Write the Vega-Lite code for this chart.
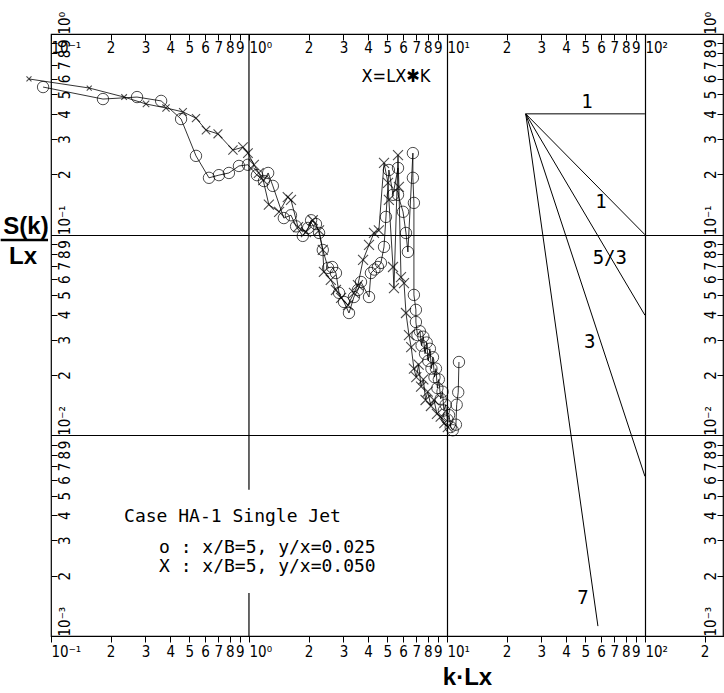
{
  "$schema": "https://vega.github.io/schema/vega-lite/v6.json",
  "width": 672,
  "height": 602,
  "autosize": {"type": "none"},
  "padding": {"left": 51, "top": 34, "right": 1, "bottom": 57},
  "background": "white",
  "config": {
    "view": {"stroke": "black", "strokeWidth": 1.2},
    "axis": {"labelColor": "black", "tickColor": "black", "domainColor": "black", "labelOverlap": false, "labelFlush": false, "labelBound": false}
  },
  "datasets": {
    "spectra": [
      {"series": "o", "seq": 1, "k": 0.0912, "S": 0.544},
      {"series": "o", "seq": 2, "k": 0.183, "S": 0.474},
      {"series": "o", "seq": 3, "k": 0.272, "S": 0.485},
      {"series": "o", "seq": 4, "k": 0.36, "S": 0.464},
      {"series": "o", "seq": 5, "k": 0.454, "S": 0.377},
      {"series": "o", "seq": 6, "k": 0.54, "S": 0.247},
      {"series": "o", "seq": 7, "k": 0.628, "S": 0.192},
      {"series": "o", "seq": 8, "k": 0.705, "S": 0.198},
      {"series": "o", "seq": 9, "k": 0.792, "S": 0.203},
      {"series": "o", "seq": 10, "k": 0.89, "S": 0.22},
      {"series": "o", "seq": 11, "k": 0.988, "S": 0.223},
      {"series": "o", "seq": 12, "k": 1.097, "S": 0.198},
      {"series": "o", "seq": 13, "k": 1.19, "S": 0.185},
      {"series": "o", "seq": 14, "k": 1.25, "S": 0.203},
      {"series": "o", "seq": 15, "k": 1.32, "S": 0.175},
      {"series": "o", "seq": 16, "k": 1.5, "S": 0.121},
      {"series": "o", "seq": 17, "k": 1.63, "S": 0.125},
      {"series": "o", "seq": 18, "k": 1.73, "S": 0.11},
      {"series": "o", "seq": 19, "k": 1.87, "S": 0.0986},
      {"series": "o", "seq": 20, "k": 1.99, "S": 0.108},
      {"series": "o", "seq": 21, "k": 2.06, "S": 0.118},
      {"series": "o", "seq": 22, "k": 2.18, "S": 0.113},
      {"series": "o", "seq": 23, "k": 2.26, "S": 0.102},
      {"series": "o", "seq": 24, "k": 2.36, "S": 0.0839},
      {"series": "o", "seq": 25, "k": 2.51, "S": 0.0683},
      {"series": "o", "seq": 26, "k": 2.63, "S": 0.069},
      {"series": "o", "seq": 27, "k": 2.75, "S": 0.0644},
      {"series": "o", "seq": 28, "k": 2.85, "S": 0.0513},
      {"series": "o", "seq": 29, "k": 3.02, "S": 0.0462},
      {"series": "o", "seq": 30, "k": 3.2, "S": 0.0407},
      {"series": "o", "seq": 31, "k": 3.39, "S": 0.0489},
      {"series": "o", "seq": 32, "k": 3.55, "S": 0.053},
      {"series": "o", "seq": 33, "k": 3.68, "S": 0.0581},
      {"series": "o", "seq": 34, "k": 4.04, "S": 0.0489},
      {"series": "o", "seq": 35, "k": 4.13, "S": 0.0644},
      {"series": "o", "seq": 36, "k": 4.3, "S": 0.067},
      {"series": "o", "seq": 37, "k": 4.48, "S": 0.069},
      {"series": "o", "seq": 38, "k": 4.64, "S": 0.0723},
      {"series": "o", "seq": 39, "k": 4.81, "S": 0.0869},
      {"series": "o", "seq": 40, "k": 4.92, "S": 0.1226},
      {"series": "o", "seq": 41, "k": 5.09, "S": 0.21},
      {"series": "o", "seq": 42, "k": 5.34, "S": 0.158},
      {"series": "o", "seq": 43, "k": 5.66, "S": 0.215},
      {"series": "o", "seq": 44, "k": 5.66, "S": 0.158},
      {"series": "o", "seq": 45, "k": 6.0, "S": 0.13},
      {"series": "o", "seq": 46, "k": 6.21, "S": 0.102},
      {"series": "o", "seq": 47, "k": 6.35, "S": 0.082},
      {"series": "o", "seq": 48, "k": 6.73, "S": 0.255},
      {"series": "o", "seq": 49, "k": 6.73, "S": 0.192},
      {"series": "o", "seq": 50, "k": 6.81, "S": 0.144},
      {"series": "o", "seq": 51, "k": 6.81, "S": 0.0501},
      {"series": "o", "seq": 52, "k": 6.97, "S": 0.0422},
      {"series": "o", "seq": 53, "k": 6.97, "S": 0.0367},
      {"series": "o", "seq": 54, "k": 7.1, "S": 0.0316},
      {"series": "o", "seq": 55, "k": 7.3, "S": 0.033},
      {"series": "o", "seq": 56, "k": 7.45, "S": 0.028},
      {"series": "o", "seq": 57, "k": 7.6, "S": 0.031},
      {"series": "o", "seq": 58, "k": 7.75, "S": 0.0255},
      {"series": "o", "seq": 59, "k": 7.9, "S": 0.029},
      {"series": "o", "seq": 60, "k": 8.05, "S": 0.0235},
      {"series": "o", "seq": 61, "k": 8.2, "S": 0.027},
      {"series": "o", "seq": 62, "k": 8.35, "S": 0.0215},
      {"series": "o", "seq": 63, "k": 8.5, "S": 0.0245},
      {"series": "o", "seq": 64, "k": 8.65, "S": 0.0195},
      {"series": "o", "seq": 65, "k": 8.8, "S": 0.0215},
      {"series": "o", "seq": 66, "k": 8.95, "S": 0.0172},
      {"series": "o", "seq": 67, "k": 9.1, "S": 0.019},
      {"series": "o", "seq": 68, "k": 9.3, "S": 0.0152},
      {"series": "o", "seq": 69, "k": 9.5, "S": 0.0165},
      {"series": "o", "seq": 70, "k": 9.65, "S": 0.0133},
      {"series": "o", "seq": 71, "k": 9.85, "S": 0.0142},
      {"series": "o", "seq": 72, "k": 10.05, "S": 0.012},
      {"series": "o", "seq": 73, "k": 10.25, "S": 0.0126},
      {"series": "o", "seq": 74, "k": 10.45, "S": 0.011},
      {"series": "o", "seq": 75, "k": 10.7, "S": 0.0106},
      {"series": "o", "seq": 76, "k": 11.1, "S": 0.0113},
      {"series": "o", "seq": 77, "k": 11.2, "S": 0.0142},
      {"series": "o", "seq": 78, "k": 11.4, "S": 0.0164},
      {"series": "o", "seq": 79, "k": 11.5, "S": 0.0232},
      {"series": "x", "seq": 1, "k": 0.0774, "S": 0.597},
      {"series": "x", "seq": 2, "k": 0.156, "S": 0.538},
      {"series": "x", "seq": 3, "k": 0.234, "S": 0.485},
      {"series": "x", "seq": 4, "k": 0.302, "S": 0.448},
      {"series": "x", "seq": 5, "k": 0.381, "S": 0.428},
      {"series": "x", "seq": 6, "k": 0.464, "S": 0.409},
      {"series": "x", "seq": 7, "k": 0.54, "S": 0.381},
      {"series": "x", "seq": 8, "k": 0.607, "S": 0.332},
      {"series": "x", "seq": 9, "k": 0.697, "S": 0.318},
      {"series": "x", "seq": 10, "k": 0.83, "S": 0.264},
      {"series": "x", "seq": 11, "k": 0.933, "S": 0.273},
      {"series": "x", "seq": 12, "k": 0.988, "S": 0.255},
      {"series": "x", "seq": 13, "k": 1.06, "S": 0.223},
      {"series": "x", "seq": 14, "k": 1.12, "S": 0.203},
      {"series": "x", "seq": 15, "k": 1.18, "S": 0.187},
      {"series": "x", "seq": 16, "k": 1.26, "S": 0.141},
      {"series": "x", "seq": 17, "k": 1.42, "S": 0.13},
      {"series": "x", "seq": 18, "k": 1.57, "S": 0.154},
      {"series": "x", "seq": 19, "k": 1.63, "S": 0.149},
      {"series": "x", "seq": 20, "k": 1.77, "S": 0.109},
      {"series": "x", "seq": 21, "k": 1.94, "S": 0.103},
      {"series": "x", "seq": 22, "k": 2.1, "S": 0.118},
      {"series": "x", "seq": 23, "k": 2.26, "S": 0.105},
      {"series": "x", "seq": 24, "k": 2.36, "S": 0.0839},
      {"series": "x", "seq": 25, "k": 2.39, "S": 0.0652},
      {"series": "x", "seq": 26, "k": 2.59, "S": 0.0595},
      {"series": "x", "seq": 27, "k": 2.75, "S": 0.053},
      {"series": "x", "seq": 28, "k": 2.92, "S": 0.0484},
      {"series": "x", "seq": 29, "k": 3.16, "S": 0.0446},
      {"series": "x", "seq": 30, "k": 3.39, "S": 0.0513},
      {"series": "x", "seq": 31, "k": 3.55, "S": 0.0561},
      {"series": "x", "seq": 32, "k": 3.77, "S": 0.0748},
      {"series": "x", "seq": 33, "k": 4.04, "S": 0.0889},
      {"series": "x", "seq": 34, "k": 4.28, "S": 0.102},
      {"series": "x", "seq": 35, "k": 4.53, "S": 0.105},
      {"series": "x", "seq": 36, "k": 4.81, "S": 0.228},
      {"series": "x", "seq": 37, "k": 5.04, "S": 0.181},
      {"series": "x", "seq": 38, "k": 5.09, "S": 0.149},
      {"series": "x", "seq": 39, "k": 5.34, "S": 0.069},
      {"series": "x", "seq": 40, "k": 5.4, "S": 0.0542},
      {"series": "x", "seq": 41, "k": 5.66, "S": 0.249},
      {"series": "x", "seq": 42, "k": 5.72, "S": 0.173},
      {"series": "x", "seq": 43, "k": 5.86, "S": 0.0615},
      {"series": "x", "seq": 44, "k": 6.07, "S": 0.0574},
      {"series": "x", "seq": 45, "k": 6.21, "S": 0.0407},
      {"series": "x", "seq": 46, "k": 6.43, "S": 0.0316},
      {"series": "x", "seq": 47, "k": 6.6, "S": 0.0275},
      {"series": "x", "seq": 48, "k": 6.81, "S": 0.0215},
      {"series": "x", "seq": 49, "k": 7.0, "S": 0.0195},
      {"series": "x", "seq": 50, "k": 7.2, "S": 0.0225},
      {"series": "x", "seq": 51, "k": 7.4, "S": 0.0175},
      {"series": "x", "seq": 52, "k": 7.6, "S": 0.019},
      {"series": "x", "seq": 53, "k": 7.8, "S": 0.015},
      {"series": "x", "seq": 54, "k": 8.0, "S": 0.0165},
      {"series": "x", "seq": 55, "k": 8.3, "S": 0.014},
      {"series": "x", "seq": 56, "k": 8.6, "S": 0.015},
      {"series": "x", "seq": 57, "k": 8.9, "S": 0.0128},
      {"series": "x", "seq": 58, "k": 9.3, "S": 0.0124},
      {"series": "x", "seq": 59, "k": 9.7, "S": 0.0115},
      {"series": "x", "seq": 60, "k": 10.1, "S": 0.011}
    ],
    "slopes": [
      {"slope": "0", "k": 25, "S": 0.4},
      {"slope": "0", "k": 100, "S": 0.4},
      {"slope": "1", "k": 25, "S": 0.4},
      {"slope": "1", "k": 100, "S": 0.1},
      {"slope": "5/3", "k": 25, "S": 0.4},
      {"slope": "5/3", "k": 100, "S": 0.03969},
      {"slope": "3", "k": 25, "S": 0.4},
      {"slope": "3", "k": 100, "S": 0.00625},
      {"slope": "7", "k": 25, "S": 0.4},
      {"slope": "7", "k": 57.9, "S": 0.00112}
    ],
    "unitGrid": [
      {"k": 1, "S": 1, "S2": 0.00535},
      {"k": 1, "S": 0.00164, "S2": 0.001}
    ],
    "slopeNotes": [
      {"note": "1", "k": 50.9, "S": 0.458},
      {"note": "1", "k": 60, "S": 0.1455},
      {"note": "5/3", "k": 66.5, "S": 0.0766},
      {"note": "3", "k": 52.7, "S": 0.0292},
      {"note": "7", "k": 48.6, "S": 0.00155}
    ],
    "legendLines": [
      {"note": "Case HA-1 Single Jet", "k": 0.234, "S": 0.00392},
      {"note": "o : x/B=5, y/x=0.025", "k": 0.351, "S": 0.00275},
      {"note": "X : x/B=5, y/x=0.050", "k": 0.351, "S": 0.00221}
    ],
    "caption": [
      {"note": "X=LX✱K", "k": 5.53, "S": 0.61}
    ],
    "yTitle": [
      {"note": "S(k)", "k": 0.0748, "S": 0.109},
      {"note": "Lx", "k": 0.0722, "S": 0.0774}
    ],
    "yTitleBar": [
      {"k": 0.0557, "k2": 0.0966, "S": 0.0941}
    ]
  },
  "layer": [
    {
      "data": {"name": "spectra"},
      "mark": {"type": "line", "color": "black", "strokeWidth": 0.8},
      "encoding": {
        "x": {
          "field": "k", "type": "quantitative",
          "scale": {"type": "log", "domain": [0.1, 248], "nice": false},
          "axis": {
            "orient": "bottom",
            "values": [0.1, 0.2, 0.3, 0.4, 0.5, 0.6, 0.7, 0.8, 0.9, 1, 2, 3, 4, 5, 6, 7, 8, 9, 10, 20, 30, 40, 50, 60, 70, 80, 90, 100, 200],
            "labelExpr": "datum.value==0.1?'10⁻¹':datum.value==1?'10⁰':datum.value==10?'10¹':datum.value==100?'10²':''+round(datum.value/pow(10,floor(log(datum.value)/LN10+1e-9)))",
            "labelAlign": {"condition": {"test": "datum.value==0.1||datum.value==1||datum.value==10||datum.value==100", "value": "left"}, "value": "center"},
            "labelFont": "Liberation Sans Narrow, DejaVu Sans Condensed, DejaVu Sans",
            "labelFontSize": 15,
            "labelPadding": 2,
            "tickSize": 6,
            "tickWidth": 1,
            "domain": true,
            "domainWidth": 1.2,
            "grid": true,
            "gridColor": "black",
            "gridWidth": 1.2,
            "gridOpacity": {"condition": {"test": "datum.value==10||datum.value==100", "value": 1}, "value": 0},
            "title": "k·Lx",
            "titleFont": "Liberation Sans",
            "titleFontSize": 24,
            "titleFontWeight": "bold",
            "titleColor": "black",
            "titleX": 416,
            "titleY": 41,
            "titleBaseline": "middle",
            "titleAlign": "center"
          }
        },
        "y": {
          "field": "S", "type": "quantitative",
          "scale": {"type": "log", "domain": [0.001, 1], "nice": false},
          "axis": {
            "orient": "left",
            "values": [0.001, 0.002, 0.003, 0.004, 0.005, 0.006, 0.007, 0.008, 0.009, 0.01, 0.02, 0.03, 0.04, 0.05, 0.06, 0.07, 0.08, 0.09, 0.1, 0.2, 0.3, 0.4, 0.5, 0.6, 0.7, 0.8, 0.9, 1],
            "labelExpr": "datum.value==0.001?'10⁻³':datum.value==0.01?'10⁻²':datum.value==0.1?'10⁻¹':datum.value==1?'10⁰':''+round(datum.value/pow(10,floor(log(datum.value)/LN10+1e-9)))",
            "labelAngle": 270,
            "labelAlign": {"condition": {"test": "datum.value==0.001||datum.value==0.01||datum.value==0.1||datum.value==1", "value": "left"}, "value": "center"},
            "labelBaseline": "middle",
            "labelFont": "Liberation Sans Narrow, DejaVu Sans Condensed, DejaVu Sans",
            "labelFontSize": 15,
            "labelPadding": -7,
            "tickSize": -6,
            "tickWidth": 1,
            "domain": false,
            "grid": true,
            "gridColor": "black",
            "gridWidth": 1.2,
            "gridOpacity": {"condition": {"test": "datum.value==0.1||datum.value==0.01", "value": 1}, "value": 0},
            "title": null
          }
        },
        "detail": {"field": "series"},
        "order": {"field": "seq", "type": "quantitative"}
      }
    },
    {
      "data": {"name": "spectra"},
      "transform": [{"filter": "datum.series == 'o'"}],
      "mark": {"type": "point", "shape": "circle", "filled": false, "color": "black", "size": 130, "strokeWidth": 1},
      "encoding": {
        "x": {
          "field": "k", "type": "quantitative",
          "axis": {
            "orient": "top",
            "values": [0.1, 0.2, 0.3, 0.4, 0.5, 0.6, 0.7, 0.8, 0.9, 1, 2, 3, 4, 5, 6, 7, 8, 9, 10, 20, 30, 40, 50, 60, 70, 80, 90, 100],
            "labelExpr": "datum.value==0.1?'10⁻¹':datum.value==1?'10⁰':datum.value==10?'10¹':datum.value==100?'10²':''+round(datum.value/pow(10,floor(log(datum.value)/LN10+1e-9)))",
            "labelAlign": {"condition": {"test": "datum.value==0.1||datum.value==1||datum.value==10||datum.value==100", "value": "left"}, "value": "center"},
            "labelBaseline": "middle",
            "labelFont": "Liberation Sans Narrow, DejaVu Sans Condensed, DejaVu Sans",
            "labelFontSize": 15,
            "labelPadding": -7,
            "tickSize": -6,
            "tickWidth": 1,
            "domain": false,
            "grid": false,
            "title": null
          }
        },
        "y": {
          "field": "S", "type": "quantitative",
          "axis": {
            "orient": "right",
            "values": [0.001, 0.002, 0.003, 0.004, 0.005, 0.006, 0.007, 0.008, 0.009, 0.01, 0.02, 0.03, 0.04, 0.05, 0.06, 0.07, 0.08, 0.09, 0.1, 0.2, 0.3, 0.4, 0.5, 0.6, 0.7, 0.8, 0.9, 1],
            "labelExpr": "datum.value==0.001?'10⁻³':datum.value==0.01?'10⁻²':datum.value==0.1?'10⁻¹':datum.value==1?'10⁰':''+round(datum.value/pow(10,floor(log(datum.value)/LN10+1e-9)))",
            "labelAngle": 270,
            "labelAlign": {"condition": {"test": "datum.value==0.001||datum.value==0.01||datum.value==0.1||datum.value==1", "value": "left"}, "value": "center"},
            "labelBaseline": "middle",
            "labelFont": "Liberation Sans Narrow, DejaVu Sans Condensed, DejaVu Sans",
            "labelFontSize": 15,
            "labelPadding": -7,
            "tickSize": -6,
            "tickWidth": 1,
            "domain": false,
            "grid": false,
            "title": null
          }
        }
      }
    },
    {
      "data": {"name": "spectra"},
      "transform": [{"filter": "datum.series == 'x'"}],
      "mark": {"type": "point", "shape": "M-1,-1L1,1M-1,1L1,-1", "filled": false, "color": "black", "strokeWidth": 1.1},
      "encoding": {
        "x": {"field": "k", "type": "quantitative", "axis": null},
        "y": {"field": "S", "type": "quantitative", "axis": null},
        "size": {"field": "k", "type": "quantitative", "scale": {"type": "log", "domain": [0.2, 1.2], "range": [25, 100], "clamp": true}, "legend": null}
      }
    },
    {
      "data": {"name": "unitGrid"},
      "mark": {"type": "rule", "color": "black", "strokeWidth": 1.2},
      "encoding": {
        "x": {"field": "k", "type": "quantitative", "axis": null},
        "y": {"field": "S", "type": "quantitative", "axis": null},
        "y2": {"field": "S2"}
      }
    },
    {
      "data": {"name": "slopes"},
      "mark": {"type": "line", "color": "black", "strokeWidth": 1},
      "encoding": {
        "x": {"field": "k", "type": "quantitative", "axis": null},
        "y": {"field": "S", "type": "quantitative", "axis": null},
        "detail": {"field": "slope"}
      }
    },
    {
      "data": {"name": "slopeNotes"},
      "mark": {"type": "text", "font": "DejaVu Sans Mono", "fontSize": 19, "color": "black", "align": "center", "baseline": "middle"},
      "encoding": {
        "x": {"field": "k", "type": "quantitative", "axis": null},
        "y": {"field": "S", "type": "quantitative", "axis": null},
        "text": {"field": "note"}
      }
    },
    {
      "data": {"name": "legendLines"},
      "mark": {"type": "text", "font": "DejaVu Sans Mono", "fontSize": 18, "color": "black", "align": "left", "baseline": "middle"},
      "encoding": {
        "x": {"field": "k", "type": "quantitative", "axis": null},
        "y": {"field": "S", "type": "quantitative", "axis": null},
        "text": {"field": "note"}
      }
    },
    {
      "data": {"name": "caption"},
      "mark": {"type": "text", "font": "Liberation Sans Narrow, DejaVu Sans Condensed, DejaVu Sans", "fontSize": 18, "color": "black", "align": "center", "baseline": "middle"},
      "encoding": {
        "x": {"field": "k", "type": "quantitative", "axis": null},
        "y": {"field": "S", "type": "quantitative", "axis": null},
        "text": {"field": "note"}
      }
    },
    {
      "data": {"name": "yTitle"},
      "mark": {"type": "text", "font": "Liberation Sans", "fontSize": 24, "fontWeight": "bold", "color": "black", "align": "center", "baseline": "middle"},
      "encoding": {
        "x": {"field": "k", "type": "quantitative", "axis": null},
        "y": {"field": "S", "type": "quantitative", "axis": null},
        "text": {"field": "note"}
      }
    },
    {
      "data": {"name": "yTitleBar"},
      "mark": {"type": "rule", "color": "black", "strokeWidth": 2.5},
      "encoding": {
        "x": {"field": "k", "type": "quantitative", "axis": null},
        "x2": {"field": "k2"},
        "y": {"field": "S", "type": "quantitative", "axis": null}
      }
    }
  ],
  "resolve": {"axis": {"x": "independent", "y": "independent"}}
}
